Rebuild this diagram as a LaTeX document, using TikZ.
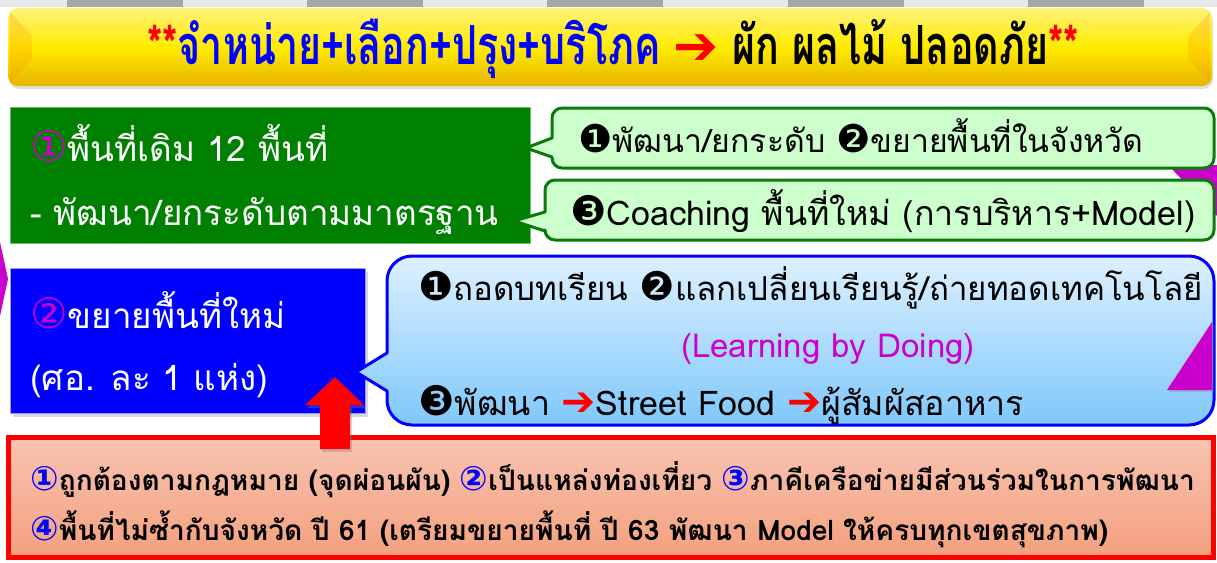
\documentclass[tikz,border=0pt]{standalone}
\usepackage{fontspec}
\setmainfont[Script=Thai]{Loma}
\newfontfamily\thaicond[Script=Thai,FakeStretch=0.73]{Loma}
\newfontfamily\sym{DejaVu Sans}
\newcommand\cn[1]{{\sym\fontsize{\dimexpr 1.2\fontdimen6\font\relax}{0pt}\selectfont #1}}
\usetikzlibrary{shadows}
\definecolor{mag}{HTML}{CC00CC}
\definecolor{boxgreen}{HTML}{008000}
\definecolor{callgreen}{HTML}{CCFFCC}
\definecolor{calledge}{HTML}{0A7A0A}
\definecolor{bluetop}{HTML}{DDF0FF}
\definecolor{bluebot}{HTML}{7FC8FA}
\definecolor{redtop}{HTML}{F8C4B2}
\definecolor{redbot}{HTML}{F4A07E}
\definecolor{ytop}{HTML}{FFF27A}
\definecolor{ybot}{HTML}{E8B400}
\tikzset{
  txt/.style={inner sep=0pt, anchor=base west, font=\fontsize{#1}{#1}\selectfont},
  txt/.default=28,
  gcall/.style={fill=callgreen, draw=calledge, line width=3pt, line join=round},
  magtri/.style={fill=mag, drop shadow={opacity=0.3, shadow xshift=2pt, shadow yshift=-2pt}},
}
\begin{document}
\begin{tikzpicture}[x=1pt, y=-1pt]
\useasboundingbox (0,0) rectangle (1217,562);
\fill[white] (0,0) rectangle (1217,562);
% top stripe
\fill[gray!18] (0,0) rectangle (1217,7);
\foreach \a in {67,307,547,788,1028} \fill[gray!70] (\a,0) rectangle (\a+116,7);
% banner
\shade[top color=ytop, bottom color=ybot, middle color=yellow!85!orange, rounded corners=10,
  drop shadow={opacity=0.25, shadow xshift=1pt, shadow yshift=-3pt}] (8,8) rectangle (1212,86);
\fill[orange, opacity=0.2] (10,12) -- (32,36) -- (32,60) -- (10,82) -- cycle;
\fill[orange, opacity=0.2] (1210,12) -- (1188,36) -- (1188,60) -- (1210,82) -- cycle;
\node[inner sep=0pt, anchor=base west, font=\fontsize{54}{54}\thaicond\bfseries] (title) at (147,64)
  {\textcolor{red}{**}\textcolor{blue}{จำหน่าย+เลือก+ปรุง+บริโภค} \textcolor{red}{\sym ➔} ผัก ผลไม้ ปลอดภัย\textcolor{red}{**}};
% left magenta
\fill[mag] (0,242) -- (8,279) -- (0,316) -- cycle;
% magenta triangle behind callouts
\fill[magtri] (1168,165) -- (1217,165) -- (1217,216) -- cycle;
% green box
\node[fill=boxgreen, draw=green!60!black!60, line width=1pt, minimum width=520pt, minimum height=136pt,
  anchor=north west, inner sep=0pt] (gbox) at (10,107) {};
\node[txt=35, text=white] (g1) at (30,161) {\textcolor{mag}{\cn{①}}พื้นที่เดิม 12 พื้นที่};
\node[txt=35, text=white] (g2) at (30,225) {- พัฒนา/ยกระดับตามมาตรฐาน};
% green callout 1
\draw[gcall] (562,108) -- (1204,108) arc(270:360:10) -- (1214,158) arc(0:90:10) -- (562,168) arc(90:180:10)
  -- (552,157) -- (526,148) -- (552,138) -- (552,118) arc(180:270:10) -- cycle;
\node[txt=32] (c1) at (578,152) {\cn{❶}พัฒนา/ยกระดับ \cn{❷}ขยายพื้นที่ในจังหวัด};
% green callout 2
\draw[gcall] (555,180) -- (1204,180) arc(270:360:10) -- (1214,230) arc(0:90:10) -- (555,240) arc(90:180:10)
  -- (545,231) -- (514,221) -- (545,212) -- (545,190) arc(180:270:10) -- cycle;
\node[txt=34] (c2) at (570,225) {\cn{❸}Coaching พื้นที่ใหม่ (การบริหาร+Model)};
% blue box
\node[fill=blue, draw=blue!40, line width=1pt, minimum width=355pt, minimum height=145pt,
  anchor=north west, inner sep=0pt, drop shadow={opacity=0.3, shadow xshift=2pt, shadow yshift=-3pt}] (bbox) at (10,268) {};
\node[txt=35, text=white] (b1) at (30,328) {\textcolor{mag}{\cn{②}}ขยายพื้นที่ใหม่};
\node[txt=35, text=white] (b2) at (30,390) {(ศอ. ละ 1 แห่ง)};
% blue callout
\shade[top color=bluetop, bottom color=bluebot, draw=blue, line width=3pt, line join=round]
  (387,281) arc(180:270:25) -- (1189,256) arc(270:360:25) -- (1214,400) arc(0:90:25) -- (412,425) arc(90:180:25)
  -- (387,391) -- (356,372) -- (387,353) -- cycle;
\fill[magtri] (1167,390) -- (1212,322) -- (1212,390) -- cycle;
\node[txt=33] (l1) at (418,300) {\cn{❶}ถอดบทเรียน \cn{❷}แลกเปลี่ยนเรียนรู้/ถ่ายทอดเทคโนโลยี};
\node[txt=33, text=mag, anchor=base] (l2) at (828,357) {(Learning by Doing)};
\node[txt=34] (l3) at (418,415) {\cn{❸}พัฒนา \textcolor{red}{\cn{➔}}Street Food \textcolor{red}{\cn{➔}}ผู้สัมผัสอาหาร};
% red box
\shade[top color=redtop, bottom color=redbot, draw=red, line width=5pt] (8,437) rectangle (1213,557);
\node[inner sep=0pt, anchor=base west, font=\fontsize{28.1}{28.1}\selectfont\bfseries] (r1) at (30,490)
  {\textcolor{blue}{\cn{①}}ถูกต้องตามกฎหมาย (จุดผ่อนผัน) \textcolor{blue}{\cn{②}}เป็นแหล่งท่องเที่ยว \textcolor{blue}{\cn{③}}ภาคีเครือข่ายมีส่วนร่วมในการพัฒนา};
\node[inner sep=0pt, anchor=base west, font=\fontsize{28.1}{28.1}\selectfont\bfseries] (r2) at (30,540)
  {\textcolor{blue}{\cn{④}}พื้นที่ไม่ซ้ำกับจังหวัด ปี 61 (เตรียมขยายพื้นที่ ปี 63 พัฒนา Model ให้ครบทุกเขตสุขภาพ)};
% red arrow
\fill[red, drop shadow={opacity=0.35, shadow xshift=2pt, shadow yshift=-3pt}]
  (320,449) -- (320,405) -- (305,405) -- (335,377) -- (364,405) -- (350,405) -- (350,449) -- cycle;
\end{tikzpicture}
\end{document}
